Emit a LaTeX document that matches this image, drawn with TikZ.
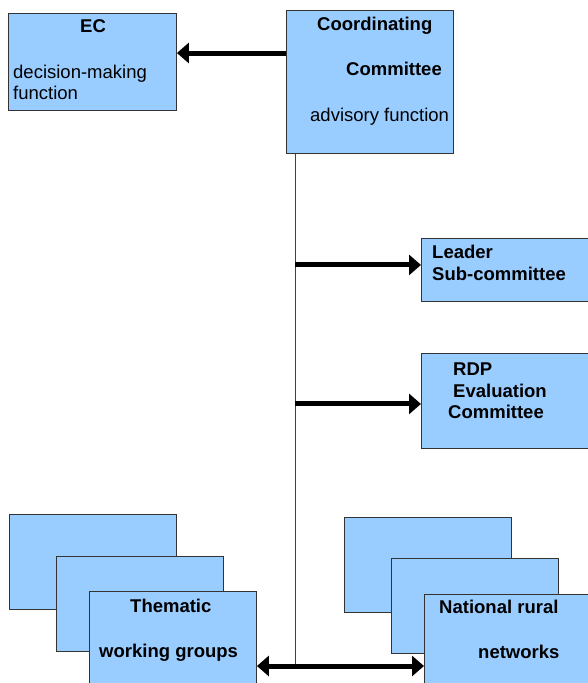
\documentclass[tikz,border=0pt]{standalone}
\usepackage{fontspec}
\setmainfont{Liberation Sans}
\usetikzlibrary{arrows.meta,positioning}
\definecolor{boxblue}{HTML}{99CCFF}
\tikzset{every node/.style={font=\fontsize{18.5}{21}\selectfont}}

\begin{document}
\begin{tikzpicture}[x=1pt,y=-1pt,
  box/.style={draw=black!80,line width=0.9pt,fill=boxblue,minimum width=167pt,minimum height=95pt,anchor=north west,inner sep=0pt},
  txt/.style={anchor=base west,inner sep=0pt,align=left},
  btxt/.style={txt,font=\fontsize{18.5}{21.5}\selectfont\bfseries},
  link/.style={line width=5pt,-{Triangle[length=12pt,width=20pt]}},
  dlink/.style={line width=5pt,{Triangle[length=12pt,width=20pt]}-{Triangle[length=12pt,width=20pt]}}]
\clip (0,0) rectangle (588,683);
% \draw[help lines] (0,0) grid (588,683);
\node (ec) [box,minimum width=168pt,minimum height=97pt] at (8,13) {};
\node (cc) [box,minimum height=143pt] at (286,10) {};
\node (lsc) [box,minimum width=170pt,minimum height=63pt] at (421,238) {};
\node (rdp) [box,minimum width=170pt] at (421,353) {};
%
\node (tw1) [box] at (9,514) {};
\node (tw2) [box] at (56,556) {};
\node (tw3) [box] at (89,591) {};
\node (nr1) [box] at (344,517) {};
\node (nr2) [box] at (391,558) {};
\node (nr3) [box,minimum width=170pt] at (424,594) {};
%
\node (ecname) [btxt] at (80,32) {EC};
\node (ecrole) [txt] at (13,99) {decision-making\\function};
\node (ccname1) [btxt] at (317,30) {Coordinating};
\node (ccname2) [btxt] at (346,75) {Committee};
\node (ccrole) [txt] at (310,121) {advisory function};
\node (lscname) [btxt] at (432,280) {Leader\\Sub-committee};
\node (rdpname1) [btxt] at (453,375) {RDP};
\node (rdpname2) [btxt] at (453,397) {Evaluation};
\node (rdpname3) [btxt] at (448,418) {Committee};
\node (twname1) [btxt] at (130,612) {Thematic};
\node (twname2) [btxt] at (99,657) {working groups};
\node (nrname1) [btxt] at (439,613) {National rural};
\node (nrname2) [btxt] at (478,658) {networks};
%
\coordinate (bus) at (295,666);
\draw[line width=0.8pt,black!75] (cc.south -| bus) -- ([yshift=-2pt]bus);
\draw[link] ([yshift=-43pt]cc.north west) -- ([yshift=-43pt]cc.north west -| ec.east);
\draw[link] ([yshift=5pt]lsc.west -| bus) -- ([yshift=5pt]lsc.west);
\draw[link] ([yshift=-3pt]rdp.west -| bus) -- ([yshift=-3pt]rdp.west);
\draw[dlink] (tw3.east |- bus) -- (nr3.west |- bus);
\end{tikzpicture}
\end{document}
